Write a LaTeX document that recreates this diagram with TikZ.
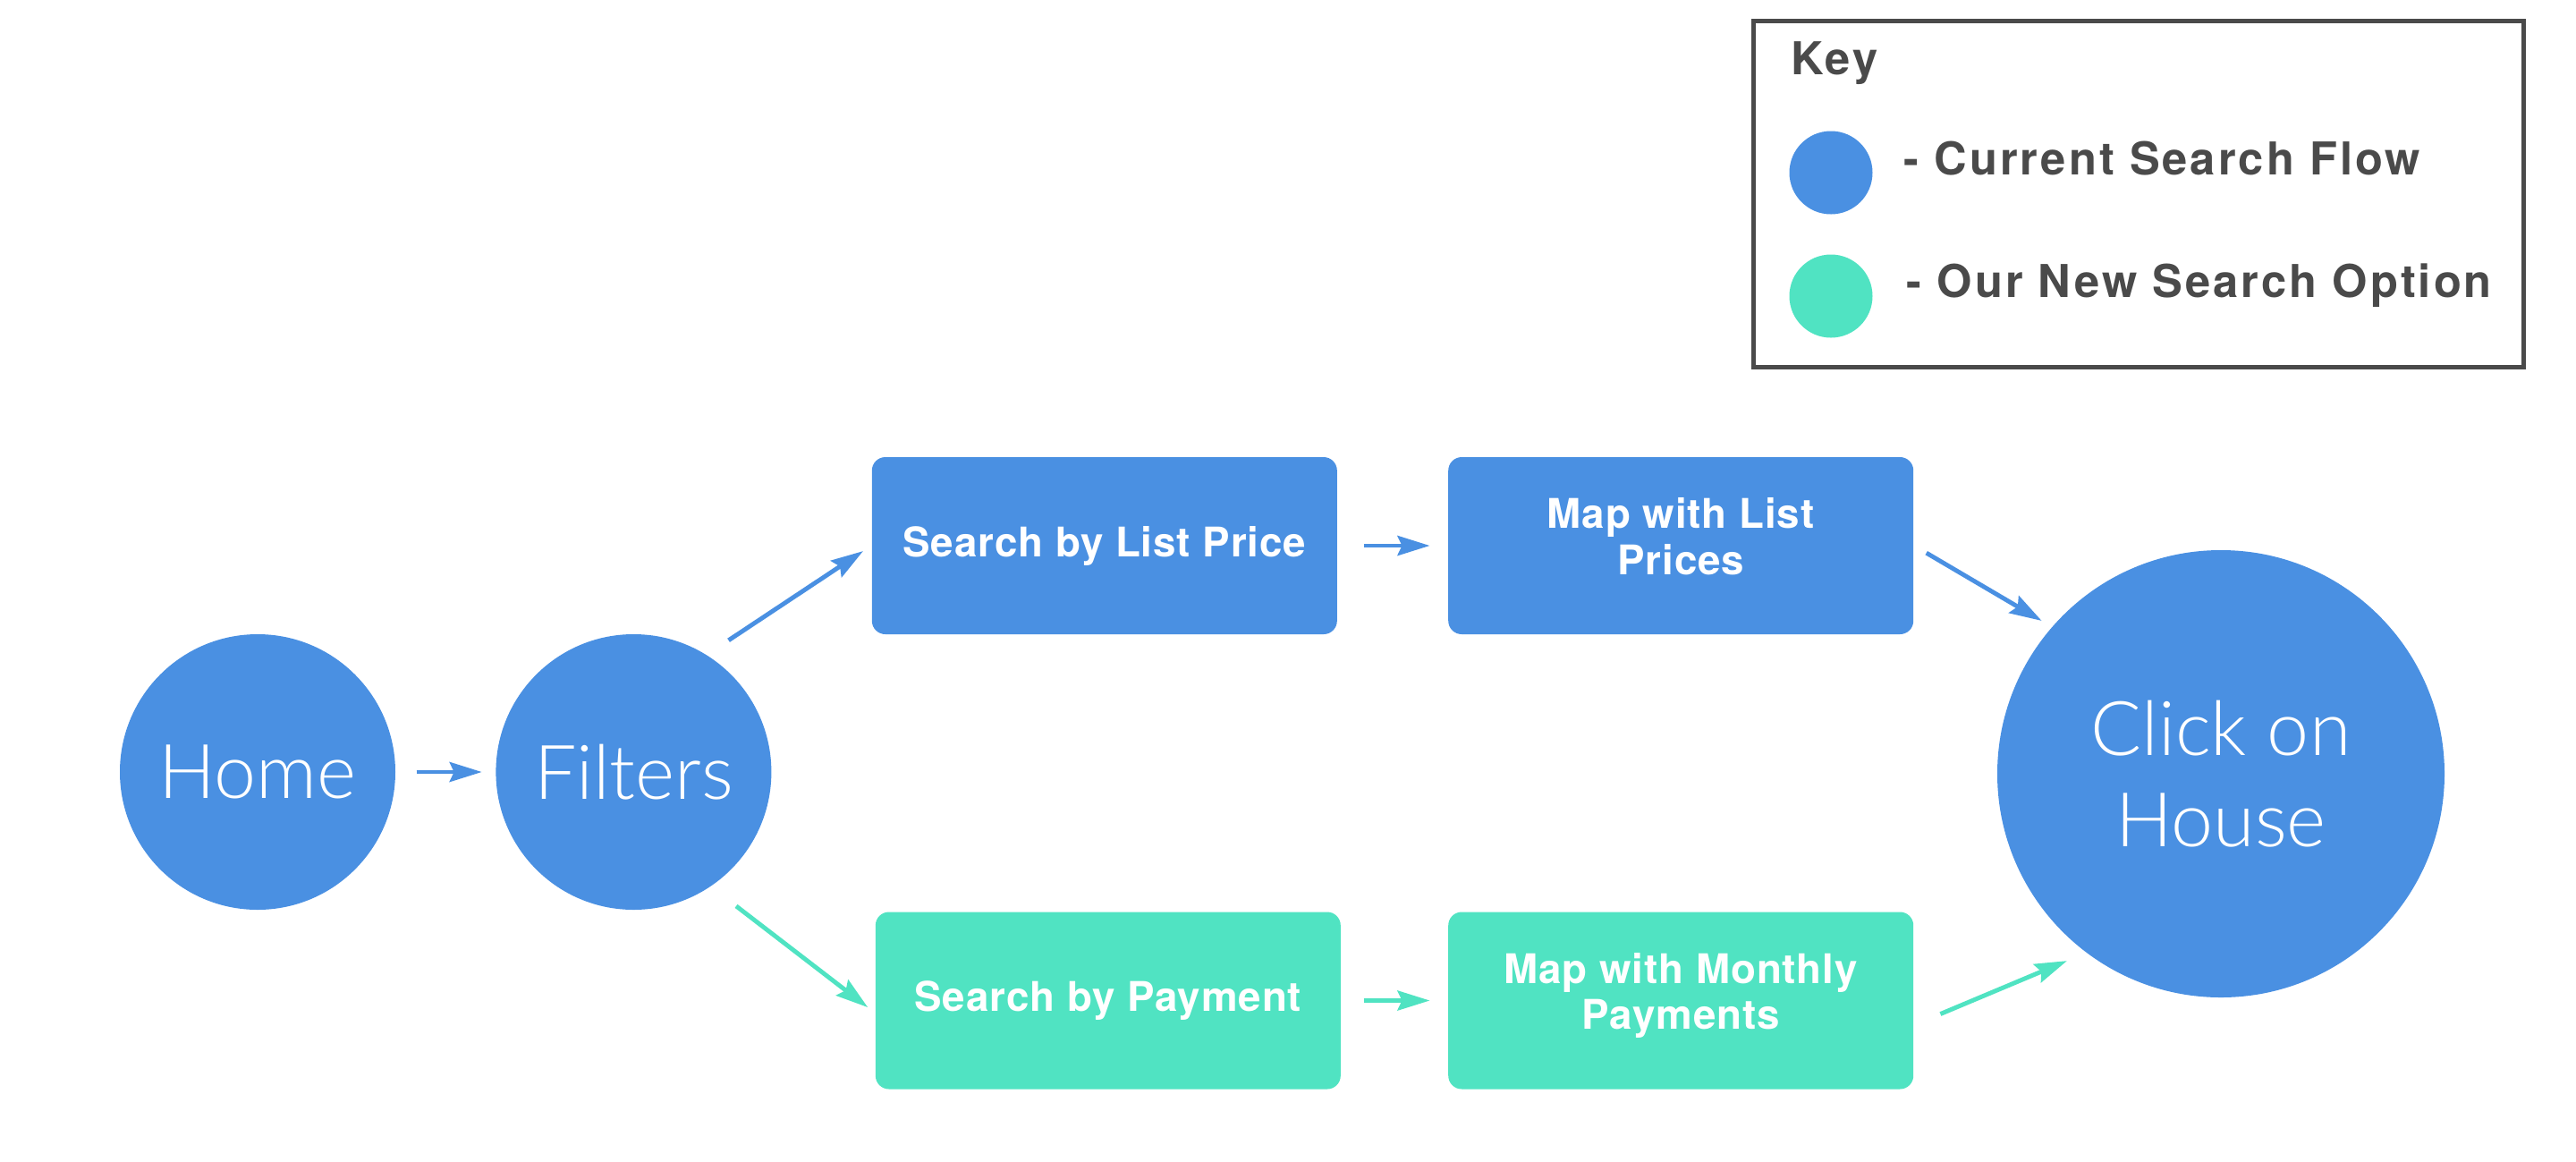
\documentclass[tikz,border=0pt]{standalone}
\usepackage{fontspec}
\setmainfont{TeX Gyre Heros}
\newfontfamily\thinfont{Lato Light}
\usepackage{xcolor}
\usetikzlibrary{positioning,arrows.meta}
\definecolor{flowblue}{HTML}{4A90E2}
\definecolor{newteal}{HTML}{50E3C2}
\definecolor{keygray}{HTML}{4A4A4A}

\begin{document}
\begin{tikzpicture}[
    bigcircle/.style={circle, fill=flowblue, text=white, minimum size=3.08cm, inner sep=0pt, align=center, font=\thinfont\fontsize{24}{29}\selectfont},
    box/.style={rectangle, rounded corners=0.15cm, minimum width=5.2cm, minimum height=1.98cm, align=center, text=white, font=\bfseries\fontsize{13}{14.6}\selectfont\addfontfeatures{LetterSpace=2}},
    twoline/.style={text height=0.9cm, text depth=0.26cm},
    keydot/.style={circle, minimum size=0.93cm, inner sep=0pt},
    keytext/.style={anchor=base west, inner sep=0pt, text=keygray, font=\bfseries\fontsize{14.4}{17}\selectfont\addfontfeatures{LetterSpace=6}},
    arrow/.style={-{Stealth[length=0.36cm,width=0.22cm,inset=0.05cm]}, line width=1.4pt, draw=flowblue},
    newarrow/.style={arrow, draw=newteal}
]
\useasboundingbox (0,0) rectangle (28.8,-12.98);

% Key
\node[draw=keygray, line width=0.05cm, minimum width=8.61cm, minimum height=3.87cm] (keybox) at (23.91,-2.17) {};
\node[keytext] (keytitle) at (20.02,-0.83) {Key};
\node[keydot, fill=flowblue] (keyblue) at (20.47,-1.93) {};
\node[keydot, fill=newteal] (keyteal) at (20.47,-3.31) {};
\node[keytext] (keycurrent) at (21.28,-1.95) {- Current Search Flow};
\node[keytext] (keynew) at (21.31,-3.32) {- Our New Search Option};

% Circles
\node[bigcircle] (home) at (2.88,-8.63) {Home};
\node[bigcircle, right=1.11cm of home] (filters) {Filters};
\node[bigcircle, minimum size=5cm] (click) at (24.83,-8.65) {Click on\\House};

% Current flow
\node[box, fill=flowblue, right=1.11cm of filters, yshift=2.53cm] (slp) {Search by List Price};
\node[box, twoline, fill=flowblue, right=1.23cm of slp] (mlp) {Map with List\\Prices};

% New option
\node[box, fill=newteal, right=1.15cm of filters, yshift=-2.555cm] (sbp) {Search by Payment};
\node[box, twoline, fill=newteal, right=1.19cm of sbp] (mmp) {Map with Monthly\\Payments};

% Arrows
\draw[arrow, shorten <=0.23cm, shorten >=0.15cm] (home) -- (filters);
\draw[arrow, shorten <=0.29cm, shorten >=0.11cm] (filters.58) -- (slp.west);
\draw[newarrow, shorten <=0.355cm, shorten >=0.10cm] (filters.-56) -- (sbp.183);
\draw[arrow, shorten <=0.29cm, shorten >=0.2cm] (slp) -- (mlp);
\draw[newarrow, shorten <=0.25cm, shorten >=0.2cm] (sbp) -- (mmp);
\draw[arrow, shorten <=0.16cm, shorten >=0.13cm] (mlp.east) -- (click.139);
\draw[newarrow, shorten <=0.32cm, shorten >=0.23cm] (mmp.-6) -- (click.233);

\end{tikzpicture}
\end{document}
